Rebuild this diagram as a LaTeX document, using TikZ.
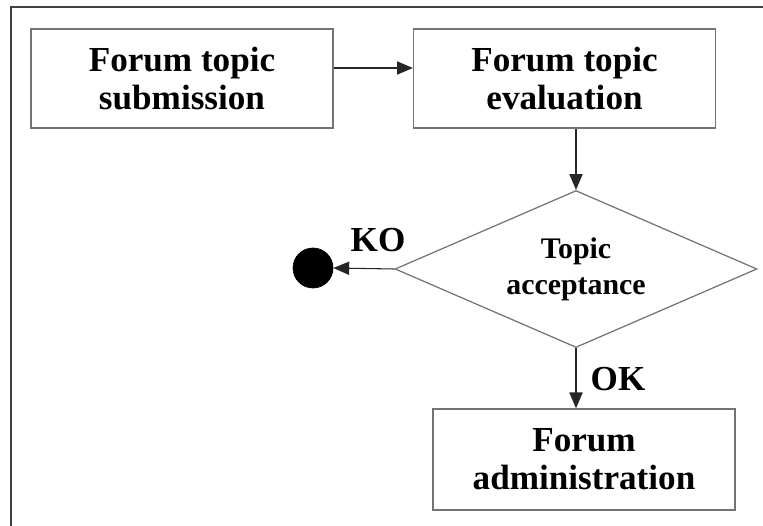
\documentclass[tikz,border=0pt]{standalone}
\usepackage{fontspec}
\setmainfont{Liberation Serif}
\usetikzlibrary{shapes.geometric,arrows.meta}

\tikzset{
  stepbox/.style={draw=black!55, line width=0.8pt, minimum width=6.04cm,
    minimum height=1.98cm, align=center, inner sep=0pt,
    font=\fontsize{20}{21.5}\selectfont\bfseries},
  decision/.style={diamond, draw=black!55, line width=0.7pt, inner sep=0pt,
    shape aspect=2.3, minimum width=7.24cm, minimum height=3.14cm, align=center,
    font=\fontsize{17}{20.4}\selectfont\bfseries},
  endpoint/.style={circle, fill=black, draw=black, minimum size=0.8cm, inner sep=0pt},
  flow/.style={draw=black!85, line width=0.6pt, -{Triangle[length=9pt,width=7.5pt]}},
  branch/.style={font=\fontsize{20}{22}\selectfont\bfseries, inner sep=0pt},
  frameline/.style={draw=black!75, line width=1.2pt}
}

\begin{document}
\begin{tikzpicture}[x=0.02cm,y=-0.02cm]
  \useasboundingbox[fill=white] (0,0) rectangle (763,526);

  % outer frame, cut off at the right and bottom
  \draw[frameline] (11,526) -- (11,7) -- (763,7);

  \node[stepbox] (submit) at (182,78.5) {Forum topic\\submission};
  \node[stepbox] (eval) at (564.5,78.5) {Forum topic\\evaluation};
  \node[decision] (accept) at (576,269) {Topic\\acceptance};
  \node[endpoint] (stop) at (313,268) {};
  \node[stepbox, minimum height=2.02cm] (admin) at (584,459.5) {Forum\\administration};

  \draw[flow] (submit.east |- 0,68) -- (eval.west |- 0,68);
  \draw[flow] (eval.south -| accept.north) -- (accept.north);
  \draw[flow] (accept.west) -- (stop.east);
  \draw[flow] (accept.south) -- (admin.north -| accept.south);

  \node[branch] (ko) at (378,240) {KO};
  \node[branch] (ok) at (618,379) {OK};
\end{tikzpicture}
\end{document}
